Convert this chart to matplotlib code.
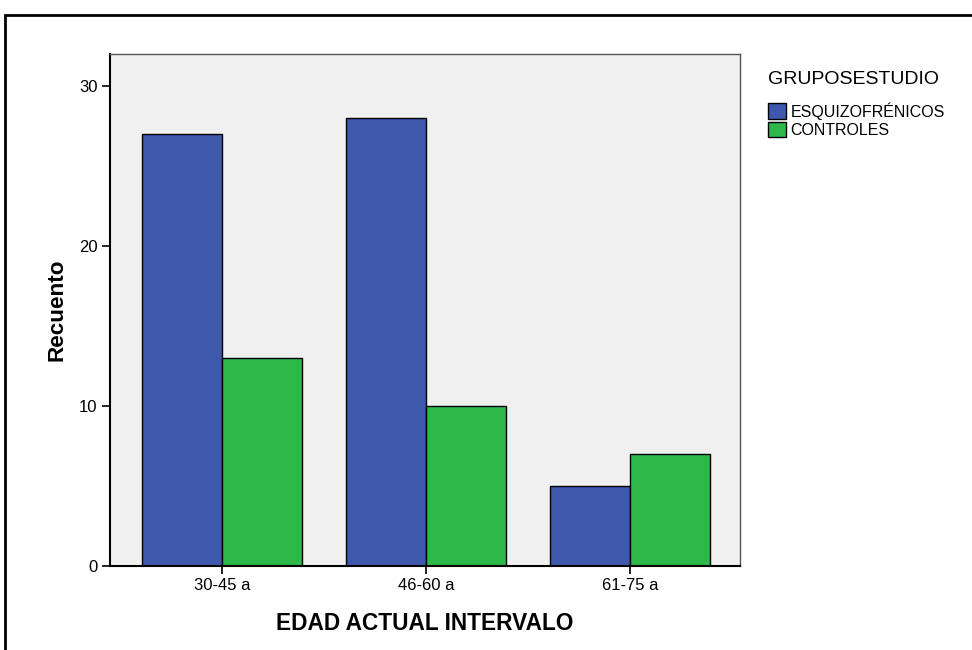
import matplotlib

matplotlib.use("Agg")

import matplotlib.pyplot as plt
import numpy as np
from matplotlib.patches import Patch, Rectangle

# Data
categories = ["30-45 a", "46-60 a", "61-75 a"]
series_names = ["ESQUIZOFRÉNICOS", "CONTROLES"]
esquizofrenicos = [27, 28, 5]
controles = [13, 10, 7]
y_ticks = [0, 10, 20, 30]

BLUE = "#3E58AC"
GREEN = "#2FB84A"
PANEL = "#F0F0F0"

plt.rcParams["font.family"] = ["Liberation Sans", "DejaVu Sans"]

fig = plt.figure(figsize=(9.72, 6.5), dpi=100)
ax = fig.add_axes([110 / 972, 84 / 650, 630 / 972, 512 / 650])
ax.set_facecolor(PANEL)

# Outer frame (runs off the right and bottom edge like the source)
fig.patches.append(
    Rectangle((5 / 972, -0.1), 1.2, (650 - 15) / 650 + 0.1, transform=fig.transFigure,
              fill=False, edgecolor="black", linewidth=2.0, zorder=0)
)

x = np.arange(len(categories))
width = 80 / 204
ax.bar(x - width / 2, esquizofrenicos, width, color=BLUE, edgecolor="black", linewidth=1.0, zorder=2)
ax.bar(x + width / 2, controles, width, color=GREEN, edgecolor="black", linewidth=1.0, zorder=2)

ax.set_xlim(-0.549, 2.539)
ax.set_ylim(0, 32)
ax.set_xticks(x)
ax.set_xticklabels(categories, fontsize=12)
ax.set_yticks(y_ticks)
ax.set_yticklabels([str(t) for t in y_ticks], fontsize=12)
ax.tick_params(axis="both", length=6, width=1.2, color="black", pad=3)

for side in ["top", "right"]:
    ax.spines[side].set_color("#555555")
    ax.spines[side].set_linewidth(1.0)
for side in ["left", "bottom"]:
    ax.spines[side].set_color("black")
    ax.spines[side].set_linewidth(1.5)

ax.set_xlabel("EDAD ACTUAL INTERVALO", fontsize=16.3, fontweight="bold", labelpad=13)
ax.set_ylabel("Recuento", fontsize=16.2, fontweight="bold", labelpad=8)

handles = [
    Patch(facecolor=BLUE, edgecolor="black", label=series_names[0]),
    Patch(facecolor=GREEN, edgecolor="black", label=series_names[1]),
]
leg = fig.legend(handles=handles, title="GRUPOSESTUDIO", loc="upper left",
                 bbox_to_anchor=(757 / 972, 1 - 60 / 650), frameon=False,
                 fontsize=11.5, title_fontsize=14, handlelength=1.1, handleheight=1.1,
                 handletextpad=0.3, labelspacing=0.15, borderpad=0.2)
leg._legend_box.align = "left"
leg._legend_box.sep = 10

fig.savefig("out.png", dpi=100)
